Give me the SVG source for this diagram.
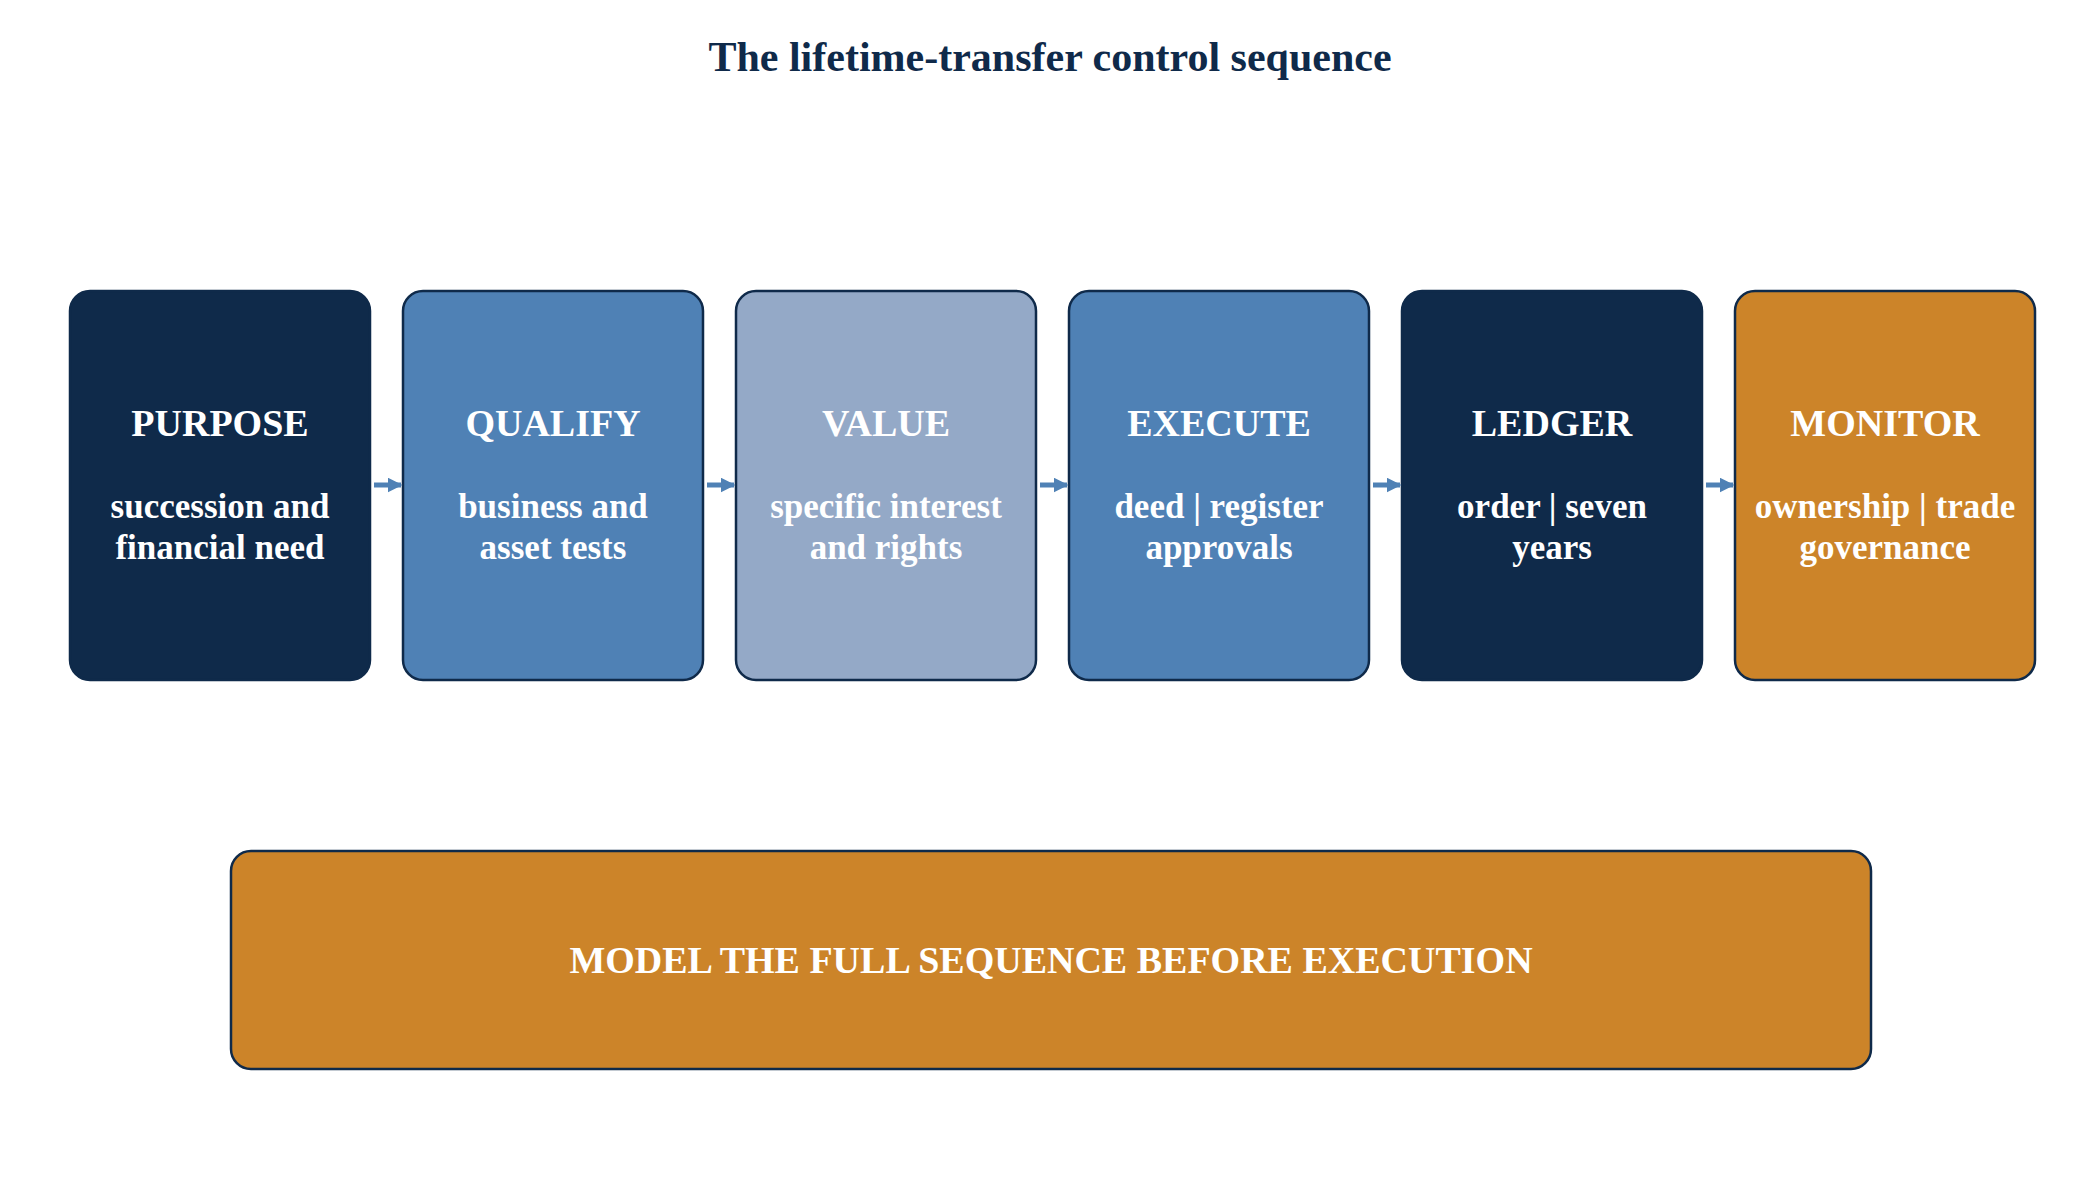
<svg xmlns="http://www.w3.org/2000/svg" width="2100" height="1180" viewBox="0 0 2100 1180">
<style>
text{font-family:"Liberation Serif","Times New Roman",serif;font-weight:bold;text-anchor:middle;fill:#fff}
.box{stroke:#0F2A4A;stroke-width:2.5}
.h{font-size:38px}
.b{font-size:35px}
.c{stroke:#4F81B5;stroke-width:5;fill:none}
</style>
<defs><marker id="a" viewBox="0 0 10 10" refX="9" refY="5" markerWidth="3" markerHeight="3" orient="auto"><path d="M0,0L10,5L0,10z" fill="#4F81B5"/></marker></defs>
<rect width="2100" height="1180" fill="#fff"/>
<text x="1050" y="71" style="font-size:42px;fill:#0F2A4A">The lifetime-transfer control sequence</text>
<g id="n1"><rect class="box" x="70" y="291" width="300" height="389" rx="20" fill="#0F2A4A"/><text class="h" x="220" y="436">PURPOSE</text><text class="b" x="220" y="518">succession and</text><text class="b" x="220" y="559">financial need</text></g>
<g id="n2"><rect class="box" x="403" y="291" width="300" height="389" rx="20" fill="#4F81B5"/><text class="h" x="553" y="436">QUALIFY</text><text class="b" x="553" y="518">business and</text><text class="b" x="553" y="559">asset tests</text></g>
<g id="n3"><rect class="box" x="736" y="291" width="300" height="389" rx="20" fill="#94A9C7"/><text class="h" x="886" y="436">VALUE</text><text class="b" x="886" y="518">specific interest</text><text class="b" x="886" y="559">and rights</text></g>
<g id="n4"><rect class="box" x="1069" y="291" width="300" height="389" rx="20" fill="#4F81B5"/><text class="h" x="1219" y="436">EXECUTE</text><text class="b" x="1219" y="518">deed | register</text><text class="b" x="1219" y="559">approvals</text></g>
<g id="n5"><rect class="box" x="1402" y="291" width="300" height="389" rx="20" fill="#0F2A4A"/><text class="h" x="1552" y="436">LEDGER</text><text class="b" x="1552" y="518">order | seven</text><text class="b" x="1552" y="559">years</text></g>
<g id="n6"><rect class="box" x="1735" y="291" width="300" height="389" rx="20" fill="#CC8429"/><text class="h" x="1885" y="436">MONITOR</text><text class="b" x="1885" y="518">ownership | trade</text><text class="b" x="1885" y="559">governance</text></g>
<g id="n7"><rect class="box" x="231" y="851" width="1640" height="218" rx="20" fill="#CC8429"/><text x="1051" y="973" style="font-size:38px">MODEL THE FULL SEQUENCE BEFORE EXECUTION</text></g>
<g id="connectors">
<path class="c" d="M374,485H401" marker-end="url(#a)"/>
<path class="c" d="M707,485H734" marker-end="url(#a)"/>
<path class="c" d="M1040,485H1067" marker-end="url(#a)"/>
<path class="c" d="M1373,485H1400" marker-end="url(#a)"/>
<path class="c" d="M1706,485H1733" marker-end="url(#a)"/>
</g>
</svg>
